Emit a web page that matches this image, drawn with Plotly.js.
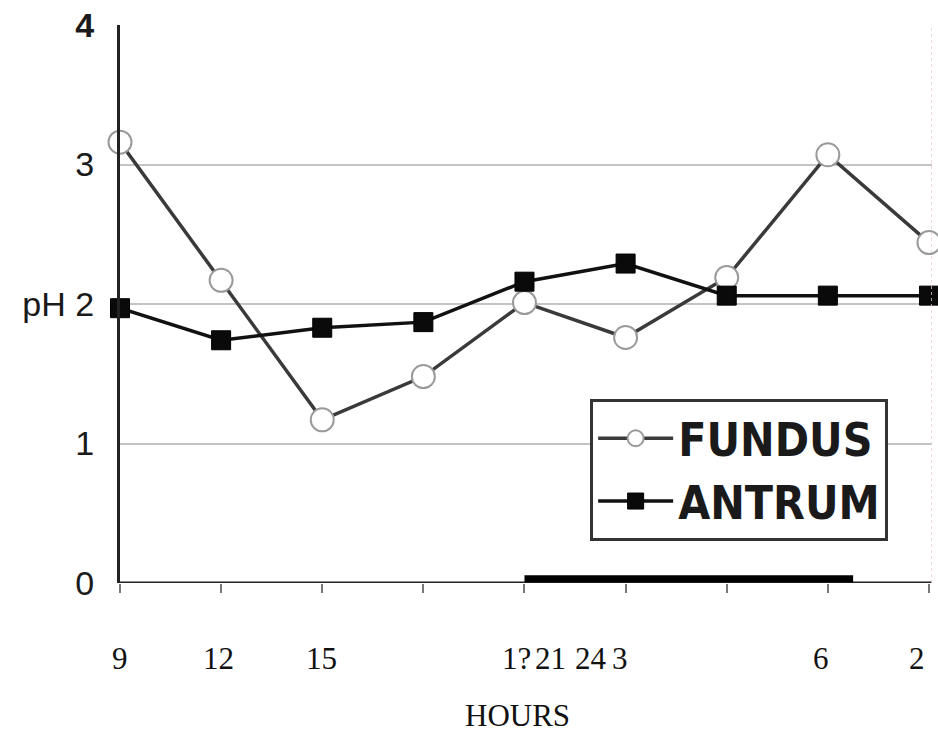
<!DOCTYPE html>
<html><head><meta charset="utf-8">
<script src="https://cdn.plot.ly/plotly-3.0.1.min.js"></script>
<style>html,body{margin:0;padding:0;background:#fff;}#chart{width:938px;height:734px;}</style>
</head><body><div id="chart"></div>
<script>
const positions = [0, 1, 2, 3, 4, 5, 6, 7, 8];
const fundus = [3.16, 2.17, 1.17, 1.48, 2.01, 1.76, 2.19, 3.07, 2.44];
const antrum = [1.97, 1.74, 1.83, 1.87, 2.16, 2.29, 2.06, 2.06, 2.06];
const yTickVals = [0, 1, 2, 3, 4];
const yTickText = ['0', '1', 'pH 2', '3', '<b>4</b>'];
const hourLabels = ['9', '12', '15', '1?', '21', '24', '3', '6', '2'];
const hourLabelPos = [0, 0.97, 1.99, 3.92, 4.26, 4.66, 4.94, 6.93, 7.88];
const nightBand = [4, 7.25];

const traces = [
  {x: positions, y: fundus, name: 'FUNDUS', mode: 'lines+markers', cliponaxis: false,
   line: {color: '#3a3a3a', width: 3.5},
   marker: {symbol: 'circle', size: 23, color: '#ffffff', line: {color: '#9a9a9a', width: 2}}},
  {x: positions, y: antrum, name: 'ANTRUM', mode: 'lines+markers', cliponaxis: false,
   line: {color: '#111111', width: 3.5},
   marker: {symbol: 'square', size: 19, color: '#0a0a0a', line: {color: '#000', width: 1}}}
];

const serif = {family: 'Liberation Serif, Times New Roman, serif', size: 31, color: '#111'};
const annotations = hourLabels.map((t, i) => ({
  x: hourLabelPos[i], y: -0.135, xref: 'x', yref: 'paper', text: t, showarrow: false,
  font: serif, xanchor: 'center', yanchor: 'middle'
}));
annotations.push({x: 0.49, y: -0.237, xref: 'paper', yref: 'paper', text: 'HOURS', showarrow: false,
  font: serif, xanchor: 'center', yanchor: 'middle'});

const layout = {
  width: 938, height: 734,
  margin: {l: 120, r: 6, t: 25, b: 151},
  paper_bgcolor: '#ffffff', plot_bgcolor: '#ffffff',
  showlegend: true,
  legend: {x: 0.579, y: 0.33, xanchor: 'left', yanchor: 'top', bgcolor: '#ffffff',
    bordercolor: '#333', borderwidth: 3, itemwidth: 75, tracegroupgap: 0,
    font: {family: 'DejaVu Sans Condensed, Liberation Sans Narrow, Liberation Sans', size: 46, color: '#1a1a1a', weight: 'bold'}},
  xaxis: {range: [0, 8.03], showgrid: false, zeroline: false, showline: false,
    tickvals: positions, ticktext: positions.map(() => ''), ticks: 'outside', ticklen: 9, tickwidth: 2, tickcolor: '#777'},
  yaxis: {range: [0, 4], tickvals: yTickVals, ticktext: yTickText, showgrid: true, gridcolor: '#c4c4c4', gridwidth: 2,
    zeroline: false, showline: true, linecolor: '#222', linewidth: 3, ticks: 'outside', ticklen: 16, tickcolor: 'rgba(0,0,0,0)',
    tickfont: {family: 'Liberation Sans, Arial', size: 34, color: '#1a1a1a'}},
  shapes: [
    {type: 'line', xref: 'x', yref: 'y', x0: 0, x1: 8.03, y0: 0, y1: 0, line: {color: '#222', width: 3}, layer: 'above'},
    {type: 'line', xref: 'x', yref: 'y', x0: nightBand[0], x1: nightBand[1], y0: 0.03, y1: 0.03, line: {color: '#000', width: 7}, layer: 'above'},
    {type: 'line', xref: 'x', yref: 'paper', x0: 8.03, x1: 8.03, y0: 0, y1: 1, line: {color: '#e6cdd6', width: 1.5, dash: 'dot'}}
  ],
  annotations: annotations
};
Plotly.newPlot('chart', traces, layout, {displayModeBar: false, staticPlot: true});
</script></body></html>
